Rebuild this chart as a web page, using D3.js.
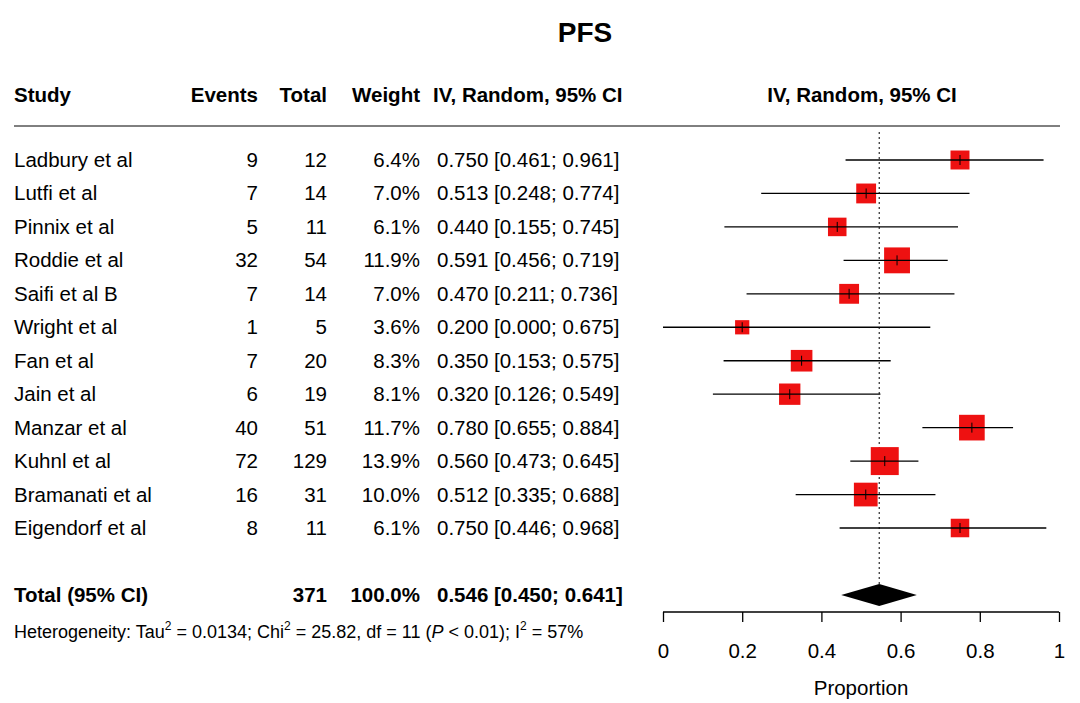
<!DOCTYPE html>
<html><head><meta charset="utf-8">
<script src="https://cdn.jsdelivr.net/npm/d3@7"></script>
<style>body{margin:0;background:#fff}text{font-family:"Liberation Sans",Arial,sans-serif}</style>
</head><body>
<script>
const studies = ["Ladbury et al","Lutfi et al","Pinnix et al","Roddie et al","Saifi et al B","Wright et al","Fan et al","Jain et al","Manzar et al","Kuhnl et al","Bramanati et al","Eigendorf et al"];
const events = [9,7,5,32,7,1,7,6,40,72,16,8];
const totals = [12,14,11,54,14,5,20,19,51,129,31,11];
const weights = [6.4,7.0,6.1,11.9,7.0,3.6,8.3,8.1,11.7,13.9,10.0,6.1];
const est = [0.750,0.513,0.440,0.591,0.470,0.200,0.350,0.320,0.780,0.560,0.512,0.750];
const lo = [0.461,0.248,0.155,0.456,0.211,0.000,0.153,0.126,0.655,0.473,0.335,0.446];
const hi = [0.961,0.774,0.745,0.719,0.736,0.675,0.575,0.549,0.884,0.645,0.688,0.968];
const pooled = {est:0.546, lo:0.450, hi:0.641, total:371};
const ticks = [0,0.2,0.4,0.6,0.8,1];

const W=1080,H=703;
const svg=d3.select("body").append("svg").attr("width",W).attr("height",H);
const x=d3.scaleLinear().domain([0,1]).range([663,1059]);
const y=d3.scaleLinear().domain([0,11]).range([160,528]);
const fs=20.5;
const f3=d3.format(".3f");

svg.append("text").attr("x",585).attr("y",42).attr("text-anchor","middle")
  .attr("font-size",28).attr("font-weight","bold").text("PFS");

const hdr=[["Study",14,"start"],["Events",258,"end"],["Total",327,"end"],["Weight",420,"end"],["IV, Random, 95% CI",433,"start"],["IV, Random, 95% CI",862,"middle"]];
hdr.forEach(h=>svg.append("text").attr("x",h[1]).attr("y",102).attr("text-anchor",h[2])
  .attr("font-size",fs).attr("font-weight","bold").text(h[0]));
svg.append("line").attr("x1",14).attr("x2",1060).attr("y1",126).attr("y2",126).attr("stroke","#000");

// reference line
svg.append("line").attr("x1",x(pooled.est)).attr("x2",x(pooled.est)).attr("y1",132).attr("y2",605)
  .attr("stroke","#000").attr("stroke-dasharray","2,3");

studies.forEach((s,i)=>{
  const yy=y(i), ty=yy+7;
  svg.append("text").attr("x",14).attr("y",ty).attr("font-size",fs).text(s);
  svg.append("text").attr("x",258).attr("y",ty).attr("text-anchor","end").attr("font-size",fs).text(events[i]);
  svg.append("text").attr("x",327).attr("y",ty).attr("text-anchor","end").attr("font-size",fs).text(totals[i]);
  svg.append("text").attr("x",420).attr("y",ty).attr("text-anchor","end").attr("font-size",fs).text(weights[i].toFixed(1)+"%");
  svg.append("text").attr("x",437).attr("y",ty).attr("font-size",fs).text(`${f3(est[i])} [${f3(lo[i])}; ${f3(hi[i])}]`);
  const sz=7.5*Math.sqrt(weights[i]);
  svg.append("rect").attr("x",x(est[i])-sz/2).attr("y",yy-sz/2).attr("width",sz).attr("height",sz).attr("fill","#ee1111");
  svg.append("line").attr("x1",x(lo[i])).attr("x2",x(hi[i])).attr("y1",yy).attr("y2",yy).attr("stroke","#000").attr("stroke-width",1.3);
  svg.append("line").attr("x1",x(est[i])).attr("x2",x(est[i])).attr("y1",yy-5).attr("y2",yy+5).attr("stroke","#000");
});

const py=595;
svg.append("text").attr("x",14).attr("y",py+7).attr("font-size",fs).attr("font-weight","bold").text("Total (95% CI)");
svg.append("text").attr("x",327).attr("y",py+7).attr("text-anchor","end").attr("font-size",fs).attr("font-weight","bold").text(pooled.total);
svg.append("text").attr("x",420).attr("y",py+7).attr("text-anchor","end").attr("font-size",fs).attr("font-weight","bold").text("100.0%");
svg.append("text").attr("x",437).attr("y",py+7).attr("font-size",fs).attr("font-weight","bold").text(`${f3(pooled.est)} [${f3(pooled.lo)}; ${f3(pooled.hi)}]`);
svg.append("path").attr("d",`M${x(pooled.lo)},${py}L${x(pooled.est)},${py-11}L${x(pooled.hi)},${py}L${x(pooled.est)},${py+11}Z`).attr("fill","#000");

const het=svg.append("text").attr("x",14).attr("y",638).attr("font-size",18);
het.append("tspan").text("Heterogeneity: Tau");
het.append("tspan").attr("dy",-8).attr("font-size",12).text("2");
het.append("tspan").attr("dy",8).text(" = 0.0134; Chi");
het.append("tspan").attr("dy",-8).attr("font-size",12).text("2");
het.append("tspan").attr("dy",8).text(" = 25.82, df = 11 (");
het.append("tspan").attr("font-style","italic").text("P");
het.append("tspan").text(" < 0.01); I");
het.append("tspan").attr("dy",-8).attr("font-size",12).text("2");
het.append("tspan").attr("dy",8).text(" = 57%");

const ax=svg.append("g").attr("transform","translate(0,612)")
  .call(d3.axisBottom(x).tickValues(ticks).tickSize(10).tickFormat(d3.format("~g")));
ax.select(".domain").attr("d",`M${x(0)},0H${x(1)}`).attr("stroke-width",1.3);
ax.selectAll(".tick line").attr("stroke-width",1.3);
ax.selectAll("text").attr("font-size",fs).attr("dy","1.6em").attr("font-family","Liberation Sans,Arial,sans-serif");
svg.append("text").attr("x",x(0.5)).attr("y",695).attr("text-anchor","middle").attr("font-size",fs).text("Proportion");
</script>
</body></html>
